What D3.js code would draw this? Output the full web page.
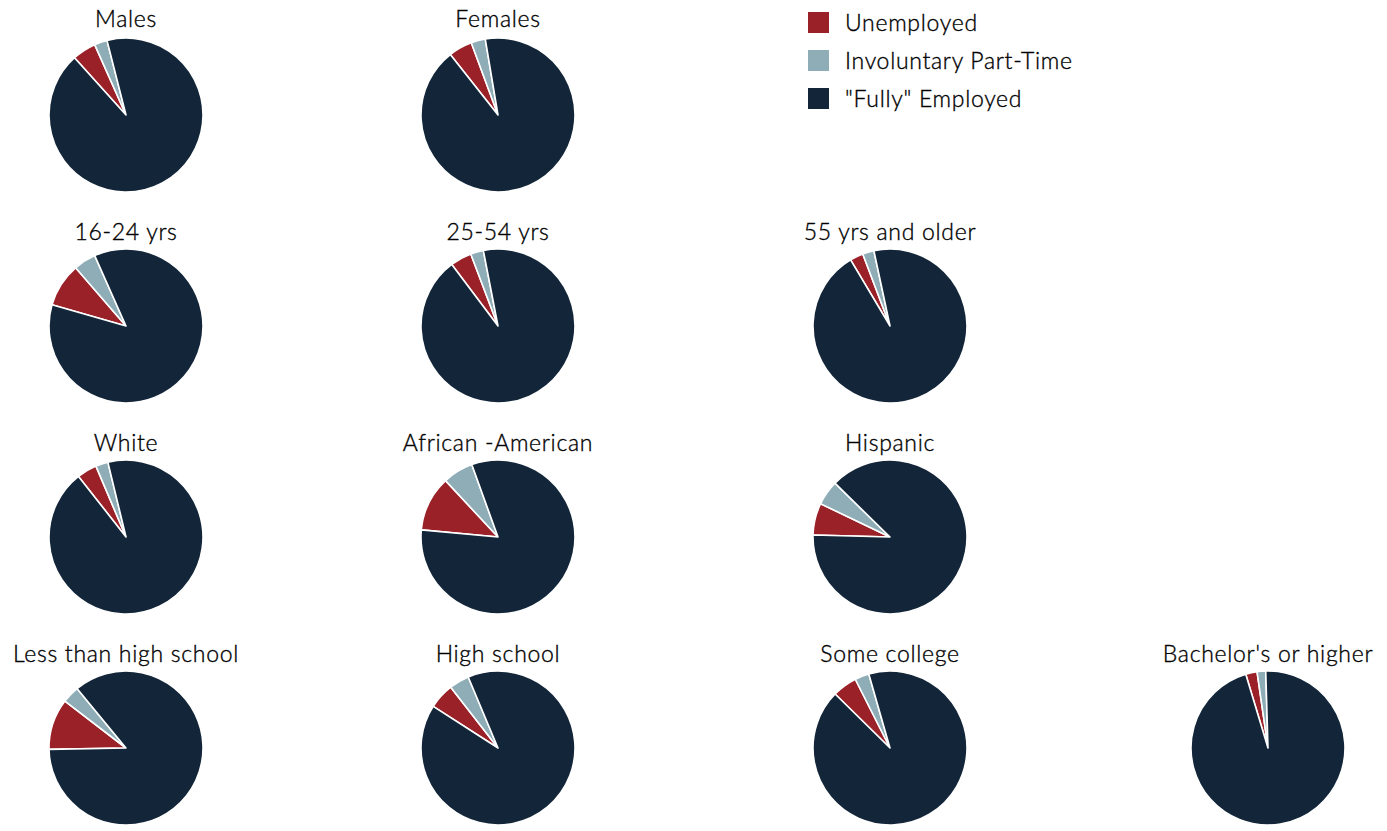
<!DOCTYPE html>
<html>
<head>
<meta charset="utf-8">
<script src="https://cdn.jsdelivr.net/npm/d3@7"></script>
<style>
  html, body { margin: 0; padding: 0; background: #ffffff; }
  svg text { font-family: Lato, "Open Sans", sans-serif; font-weight: 300; fill: #000000; stroke: #000000; stroke-width: 0.35px; }
</style>
</head>
<body>
<svg id="chart" width="1387" height="831"></svg>
<script>
// Labour-market status shares (% of labour force) by group
const groups = [
  "Males", "Females",
  "16-24 yrs", "25-54 yrs", "55 yrs and older",
  "White", "African -American", "Hispanic",
  "Less than high school", "High school", "Some college", "Bachelor's or higher"
];
const unemployed  = [5.0, 5.0, 9.2, 4.5, 2.8, 4.2, 11.6, 6.7, 10.7, 5.4, 5.2, 2.4];
const involuntary = [2.7, 3.0, 4.7, 2.7, 2.4, 2.6,  6.4, 5.2,  3.6, 4.2, 3.0, 1.8];
const fullyEmployed = unemployed.map((u, i) => +(100 - u - involuntary[i]).toFixed(1));

const seriesNames = ["Unemployed", "Involuntary Part-Time", "\"Fully\" Employed"];
const seriesColors = ["#9a2128", "#8eadb7", "#132639"];

// Grid placement of each pie (row, column) and rotation of the first slice (degrees from 12 o'clock)
const gridRow = [0, 0, 1, 1, 1, 2, 2, 2, 3, 3, 3, 3];
const gridCol = [0, 1, 0, 1, 2, 0, 1, 2, 0, 1, 2, 3];
const firstSliceDeg = [-42, -38.3, -74, -36.9, -30.8, -38.1, -84.7, -88.5, -91, -57.3, -45.5, -16.8];

const colX = [126, 498, 890, 1268];
const rowY = [115, 326, 537, 748];
const radius = 77;

const svg = d3.select("#chart");
const color = d3.scaleOrdinal().domain(seriesNames).range(seriesColors);
const arc = d3.arc().innerRadius(0).outerRadius(radius);

groups.forEach((name, i) => {
  const slices = seriesNames.map((key, k) => ({
    key,
    value: [unemployed[i], involuntary[i], fullyEmployed[i]][k]
  }));
  const start = firstSliceDeg[i] * Math.PI / 180;
  const pie = d3.pie()
    .sort(null)
    .value(d => d.value)
    .startAngle(start)
    .endAngle(start + 2 * Math.PI);

  const g = svg.append("g")
    .attr("transform", `translate(${colX[gridCol[i]]},${rowY[gridRow[i]]})`);

  g.selectAll("path")
    .data(pie(slices))
    .join("path")
    .attr("d", arc)
    .attr("fill", d => color(d.data.key))
    .attr("stroke", "#ffffff")
    .attr("stroke-width", 1.6)
    .attr("stroke-linejoin", "round");

  g.append("text")
    .attr("x", 0)
    .attr("y", -radius - (gridRow[i] === 0 ? 11 : 9))
    .attr("text-anchor", "middle")
    .style("font-size", "23px")
    .style("letter-spacing", "0.7px")
    .text(name);
});

// Legend
const legend = svg.append("g").attr("transform", "translate(808,12)");
const items = legend.selectAll("g")
  .data(seriesNames)
  .join("g")
  .attr("transform", (d, i) => `translate(0,${i * 38})`);
items.append("rect")
  .attr("width", 21).attr("height", 21)
  .attr("fill", d => color(d));
items.append("text")
  .attr("x", 37).attr("y", 19)
  .style("font-size", "23px")
  .style("letter-spacing", "0.7px")
  .text(d => d);
</script>
</body>
</html>
